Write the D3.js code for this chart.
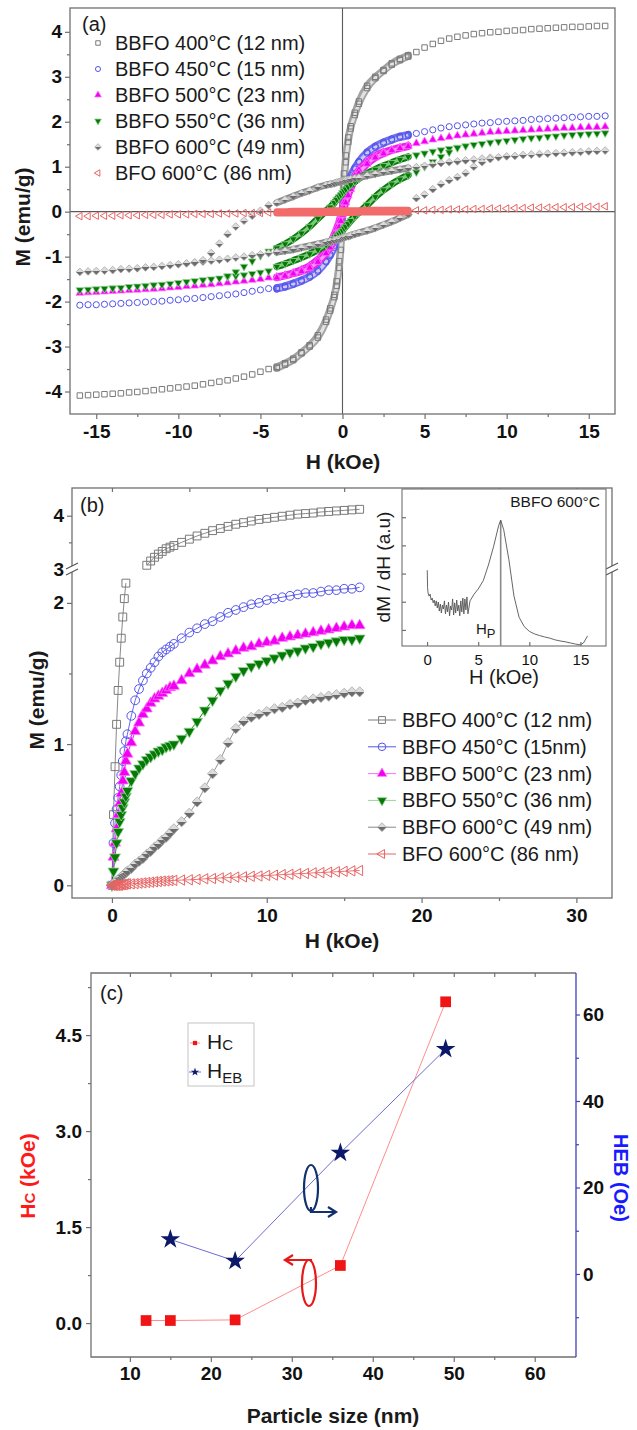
<!DOCTYPE html>
<html><head><meta charset="utf-8">
<script src="https://cdn.jsdelivr.net/npm/d3@7"></script>
<style>
body{margin:0;background:#fff;}
svg{display:block;}
</style></head><body>
<svg id="chart" width="637" height="1430"></svg>
<script>
// ---------------- DATA ----------------
// Panel (a): field grids (kOe)
const H_NEG = [-16,-15.5,-15,-14.5,-14,-13.5,-13,-12.5,-12,-11.5,-11,-10.5,-10,-9.5,-9,-8.5,-8,-7.5,-7,-6.5,-6,-5.5,-5,-4.5];
const H_POS = [4.5,5,5.5,6,6.5,7,7.5,8,8.5,9,9.5,10,10.5,11,11.5,12,12.5,13,13.5,14,14.5,15,15.5,16];
const H_BAND = [-4,-3.5,-3,-2.5,-2,-1.5,-1,-0.75,-0.5,-0.35,-0.2,-0.1,0,0.1,0.2,0.35,0.5,0.75,1,1.5,2,2.5,3,3.5,4];
const H_OPEN36_NEG = [-7,-6.5,-6,-5.5,-5,-4.5];
const H_OPEN36_POS = [4.5,5,5.5,6,6.5,7];
const H_OPEN49_NEG = [-9,-8.5,-8,-7.5,-7,-6.5,-6,-5.5,-5,-4.5];
const H_OPEN49_POS = [4.5,5,5.5,6,6.5,7,7.5,8,8.5,9];

// M (emu/g) – 12 nm
const neg12 = [-4.09,-4.08,-4.07,-4.06,-4.05,-4.04,-4.02,-4.01,-3.99,-3.97,-3.95,-3.93,-3.91,-3.89,-3.87,-3.84,-3.81,-3.78,-3.75,-3.71,-3.67,-3.62,-3.56,-3.5];
const pos12 = [3.55,3.65,3.73,3.8,3.85,3.89,3.92,3.95,3.97,3.99,4.0,4.02,4.03,4.04,4.06,4.07,4.08,4.09,4.1,4.11,4.11,4.12,4.13,4.13];
const desc12 = [-3.45,-3.37,-3.27,-3.13,-2.97,-2.75,-2.4,-2.15,-1.85,-1.55,-1.1,-0.55,0.15,0.85,1.25,1.65,1.9,2.2,2.45,2.8,3.0,3.15,3.3,3.4,3.48];
const asc12 = [-3.48,-3.4,-3.3,-3.15,-3.0,-2.8,-2.45,-2.2,-1.9,-1.65,-1.25,-0.85,-0.15,0.55,1.1,1.55,1.85,2.15,2.4,2.75,2.97,3.13,3.27,3.37,3.45];
// 15 nm
const neg15 = [-2.08,-2.07,-2.07,-2.06,-2.05,-2.04,-2.03,-2.02,-2.01,-2.0,-1.99,-1.97,-1.96,-1.94,-1.93,-1.91,-1.89,-1.87,-1.85,-1.83,-1.8,-1.77,-1.74,-1.71];
const pos15 = [1.74,1.78,1.82,1.86,1.89,1.91,1.93,1.95,1.97,1.98,2.0,2.01,2.02,2.03,2.05,2.06,2.07,2.08,2.09,2.1,2.11,2.12,2.12,2.13];
const desc15 = [-1.69,-1.65,-1.59,-1.52,-1.43,-1.3,-1.1,-0.95,-0.75,-0.55,-0.32,-0.14,0.06,0.25,0.42,0.62,0.8,0.98,1.12,1.33,1.46,1.55,1.62,1.68,1.72];
const asc15 = [-1.72,-1.68,-1.62,-1.55,-1.46,-1.33,-1.12,-0.98,-0.8,-0.62,-0.42,-0.25,-0.06,0.14,0.32,0.55,0.75,0.95,1.1,1.3,1.43,1.52,1.59,1.65,1.69];
// 23 nm
const neg23 = [-1.81,-1.8,-1.79,-1.78,-1.77,-1.76,-1.75,-1.74,-1.73,-1.72,-1.71,-1.69,-1.68,-1.66,-1.65,-1.63,-1.62,-1.6,-1.58,-1.56,-1.54,-1.52,-1.5,-1.47];
const pos23 = [1.52,1.56,1.6,1.63,1.66,1.69,1.71,1.73,1.75,1.77,1.78,1.79,1.8,1.81,1.82,1.83,1.84,1.85,1.86,1.86,1.87,1.88,1.88,1.89];
const desc23 = [-1.45,-1.41,-1.36,-1.29,-1.2,-1.06,-0.85,-0.7,-0.5,-0.36,-0.2,-0.07,0.07,0.21,0.34,0.5,0.63,0.8,0.93,1.12,1.25,1.33,1.38,1.43,1.47];
const asc23 = [-1.47,-1.43,-1.38,-1.33,-1.25,-1.12,-0.93,-0.8,-0.63,-0.5,-0.34,-0.21,-0.07,0.07,0.2,0.36,0.5,0.7,0.85,1.06,1.2,1.29,1.36,1.41,1.45];
// 36 nm
const neg36 = [-1.74,-1.73,-1.72,-1.71,-1.7,-1.69,-1.67,-1.66,-1.65,-1.63,-1.62,-1.6,-1.58,-1.56,-1.54,-1.52,-1.5,-1.48,-1.45,-1.43,-1.41,-1.38,-1.35,-1.32];
const pos36 = [1.26,1.3,1.34,1.37,1.4,1.43,1.46,1.49,1.51,1.54,1.56,1.58,1.6,1.62,1.64,1.65,1.67,1.68,1.7,1.71,1.72,1.73,1.74,1.75];
const desc36 = [-0.81,-0.72,-0.61,-0.48,-0.33,-0.15,0.02,0.1,0.2,0.27,0.33,0.37,0.42,0.46,0.5,0.55,0.6,0.67,0.74,0.85,0.94,1.02,1.09,1.16,1.22];
const asc36 = [-1.22,-1.16,-1.09,-1.02,-0.94,-0.85,-0.74,-0.67,-0.6,-0.55,-0.5,-0.46,-0.42,-0.37,-0.33,-0.27,-0.2,-0.1,-0.02,0.15,0.33,0.48,0.61,0.72,0.81];
const open36Neg = [-1.43,-1.34,-1.22,-1.1,-0.98,-0.88];
const open36Pos = [0.88,1.0,1.11,1.22,1.32,1.42];
// 49 nm
const neg49 = [-1.34,-1.33,-1.32,-1.31,-1.3,-1.28,-1.27,-1.26,-1.24,-1.23,-1.21,-1.19,-1.17,-1.15,-1.13,-1.11,-1.09,-1.07,-1.05,-1.02,-1.0,-0.97,-0.95,-0.92];
const pos49 = [0.99,1.02,1.05,1.08,1.1,1.12,1.14,1.16,1.18,1.2,1.21,1.23,1.24,1.26,1.27,1.28,1.29,1.3,1.31,1.32,1.33,1.34,1.35,1.36];
const desc49 = [0.2,0.27,0.34,0.41,0.47,0.54,0.59,0.61,0.63,0.65,0.66,0.67,0.68,0.69,0.7,0.71,0.72,0.74,0.76,0.8,0.84,0.88,0.91,0.94,0.97];
const asc49 = [-0.9,-0.87,-0.84,-0.8,-0.76,-0.72,-0.68,-0.66,-0.64,-0.62,-0.61,-0.6,-0.58,-0.57,-0.56,-0.55,-0.53,-0.5,-0.47,-0.42,-0.36,-0.29,-0.22,-0.14,-0.06];
const open49Neg = [-1.13,-1.08,-0.92,-0.71,-0.5,-0.33,-0.2,-0.09,0.02,0.14];
const open49Pos = [0.3,0.38,0.5,0.61,0.7,0.77,0.86,1.0,1.1,1.17];
// 86 nm (BFO)
const neg86 = [-0.1,-0.1,-0.09,-0.09,-0.09,-0.08,-0.08,-0.08,-0.07,-0.07,-0.07,-0.06,-0.06,-0.06,-0.05,-0.05,-0.05,-0.04,-0.04,-0.04,-0.03,-0.03,-0.03,-0.02];
const pos86 = [0.03,0.03,0.04,0.04,0.05,0.05,0.05,0.06,0.06,0.07,0.07,0.07,0.08,0.08,0.09,0.09,0.09,0.1,0.1,0.1,0.11,0.11,0.11,0.12];
const desc86 = [0,0,0.01,0.01,0.01,0.01,0.01,0.02,0.02,0.02,0.02,0.02,0.02,0.02,0.02,0.02,0.02,0.02,0.02,0.03,0.03,0.03,0.03,0.03,0.03];
const asc86 = [-0.03,-0.03,-0.03,-0.03,-0.03,-0.03,-0.02,-0.02,-0.02,-0.02,-0.02,-0.02,-0.02,-0.02,-0.02,-0.02,-0.02,-0.02,-0.01,-0.01,-0.01,-0.01,-0.01,0,0];

// Panel (b): virgin curves
const H_VIR = [0,0.1,0.2,0.3,0.4,0.5,0.6,0.7,0.8,0.9,1,1.25,1.5,1.75,2,2.25,2.5,2.75,3,3.25,3.5,3.75,4,4.5,5,5.5,6,6.5,7,7.5,8,8.5,9,9.5,10,10.5,11,11.5,12,12.5,13,13.5,14,14.5,15,15.5,16];
const vir12 = [0,0.5,0.84,1.14,1.38,1.58,1.75,1.9,2.03,2.14,2.3,2.5,2.65,2.8,2.95,3.07,3.15,3.22,3.28,3.33,3.38,3.41,3.44,3.5,3.56,3.62,3.67,3.72,3.76,3.8,3.84,3.87,3.9,3.93,3.95,3.97,3.99,4.01,4.03,4.04,4.05,4.07,4.08,4.09,4.1,4.11,4.12];
const vir15 = [0,0.3,0.44,0.54,0.62,0.7,0.78,0.88,0.95,1.02,1.07,1.2,1.31,1.39,1.45,1.5,1.54,1.58,1.62,1.65,1.67,1.69,1.71,1.75,1.79,1.82,1.85,1.87,1.9,1.93,1.95,1.97,1.99,2.0,2.02,2.03,2.04,2.05,2.06,2.07,2.07,2.08,2.09,2.09,2.1,2.1,2.11];
const vir23 = [0,0.2,0.3,0.4,0.5,0.58,0.65,0.74,0.8,0.88,0.93,1.01,1.09,1.15,1.21,1.25,1.29,1.32,1.34,1.36,1.38,1.4,1.41,1.45,1.5,1.53,1.56,1.59,1.62,1.64,1.66,1.68,1.69,1.71,1.72,1.73,1.75,1.76,1.77,1.78,1.79,1.8,1.81,1.82,1.83,1.84,1.84];
const vir36 = [0,0.1,0.2,0.3,0.38,0.45,0.5,0.55,0.59,0.63,0.67,0.74,0.79,0.83,0.86,0.89,0.91,0.93,0.95,0.96,0.98,0.99,1.0,1.04,1.09,1.16,1.24,1.31,1.38,1.43,1.48,1.52,1.55,1.57,1.59,1.61,1.63,1.65,1.66,1.68,1.69,1.71,1.72,1.73,1.74,1.74,1.75];
const vir49 = [0,0.01,0.02,0.03,0.04,0.05,0.06,0.07,0.08,0.09,0.1,0.12,0.15,0.17,0.19,0.22,0.24,0.27,0.29,0.32,0.34,0.37,0.4,0.45,0.51,0.59,0.69,0.79,0.89,1.01,1.11,1.16,1.19,1.21,1.23,1.25,1.26,1.28,1.29,1.31,1.32,1.33,1.34,1.35,1.36,1.37,1.37];
const vir86 = [0,0,0,0,0,0,0.005,0.005,0.005,0.01,0.01,0.01,0.012,0.015,0.017,0.02,0.022,0.025,0.027,0.03,0.031,0.033,0.035,0.037,0.039,0.042,0.046,0.048,0.052,0.054,0.058,0.06,0.064,0.066,0.07,0.072,0.076,0.078,0.082,0.084,0.088,0.09,0.093,0.096,0.099,0.102,0.105];

// Inset: dM/dH (a.u.) of BBFO 600°C
const INSET_H = [0.02,0.05,0.1,0.2,0.3,0.4,0.5,0.6,0.7,0.8,0.9,1.0,1.1,1.2,1.3,1.4,1.5,1.6,1.7,1.8,1.9,2.0,2.1,2.2,2.3,2.4,2.5,2.6,2.7,2.8,2.9,3.0,3.1,3.2,3.3,3.4,3.5,3.6,3.7,3.8,3.9,4.0,4.2,4.6,5.0,5.5,6.0,6.5,7.0,7.2,7.5,8.0,8.5,9.0,9.5,10,10.5,11,11.5,12,12.5,13,13.5,14,14.5,15,15.3,15.7];
const INSET_V = [2.12,1.5,1.31,1.2,1.27,1.06,1.13,0.96,1.06,0.85,1.03,0.78,0.99,0.67,0.92,0.6,0.88,0.74,1.03,0.57,0.88,0.64,0.99,0.5,0.85,0.71,1.1,0.53,0.96,0.6,1.06,0.67,0.88,0.5,1.03,0.64,1.13,0.57,1.1,0.71,1.17,0.57,1.03,1.27,1.45,1.75,2.3,2.95,3.7,3.89,3.55,2.5,1.2,0.45,0.12,-0.05,-0.14,-0.2,-0.25,-0.29,-0.35,-0.39,-0.42,-0.46,-0.5,-0.53,-0.46,-0.21];
const HP = 7.2;

// Panel (c)
const SIZE_HC = [12,15,23,36,49];
const HC = [0.04,0.04,0.05,0.9,5.02];
const SIZE_HEB = [15,23,36,49];
const HEB = [8,3,28,52];

// Tick labels / legends
const X_TICKS_A = [-15,-10,-5,0,5,10,15];
const Y_TICKS_A = [-4,-3,-2,-1,0,1,2,3,4];
const X_TICKS_B = [0,10,20,30];
const Y_TICKS_B_LO = [0,1,2];
const Y_TICKS_B_HI = [3,4];
const X_TICKS_I = [0,5,10,15];
const X_TICKS_C = [10,20,30,40,50,60];
const YL_TICKS_C = [0,1.5,3.0,4.5];
const YR_TICKS_C = [0,20,40,60];
const LEGEND_A = ["BBFO 400°C (12 nm)","BBFO 450°C (15 nm)","BBFO 500°C (23 nm)","BBFO 550°C (36 nm)","BBFO 600°C (49 nm)","BFO 600°C (86 nm)"];
const LEGEND_B = ["BBFO 400°C (12 nm)","BBFO 450°C (15nm)","BBFO 500°C (23 nm)","BBFO 550°C (36 nm)","BBFO 600°C (49 nm)","BFO 600°C (86 nm)"];

// ---------------- DRAWING ----------------
const FONT = "'Liberation Sans', Arial, Helvetica, sans-serif";
const AX = "#707070";
const svg = d3.select("#chart");
const defs = svg.append("defs");
const grad = defs.append("linearGradient").attr("id","halfGray").attr("x1",0).attr("y1",0).attr("x2",0).attr("y2",1);
[[0,"#dcdcdc"],[0.5,"#dcdcdc"],[0.5,"#6c6c6c"],[1,"#6c6c6c"]].forEach(([o,c])=>grad.append("stop").attr("offset",o).attr("stop-color",c));

const diamondType = {draw(ctx,size){const r=Math.sqrt(size/2);ctx.moveTo(0,-r);ctx.lineTo(r,0);ctx.lineTo(0,r);ctx.lineTo(-r,0);ctx.closePath();}};
const SHAPES = {square:[d3.symbolSquare,0],circle:[d3.symbolCircle,0],up:[d3.symbolTriangle,0],down:[d3.symbolTriangle,180],diamond:[diamondType,0],left:[d3.symbolTriangle,-90]};

const SERIES = [
 {neg:neg12,pos:pos12,desc:desc12,asc:asc12,vir:vir12,shape:"square",stroke:"#7a7a7a",fill:"none",sw:1,dark:"#a4a4a4",light:"#e2e2e2",marks:true},
 {neg:neg15,pos:pos15,desc:desc15,asc:asc15,vir:vir15,shape:"circle",stroke:"#5454ea",fill:"none",sw:1,dark:"#7070ee",light:"#c9c9ff",marks:true},
 {neg:neg23,pos:pos23,desc:desc23,asc:asc23,vir:vir23,shape:"up",stroke:"#ff70ff",fill:"#f000f0",sw:0.8,dark:"#ee22ee",light:"#ffa0ff",marks:true},
 {neg:neg36,pos:pos36,desc:desc36,asc:asc36,vir:vir36,shape:"down",stroke:"#96d696",fill:"#067806",sw:0.8,dark:"#0b7a0b",light:"#7cc87c",marks:true,
  openNegH:H_OPEN36_NEG,openNeg:open36Neg,openPosH:H_OPEN36_POS,openPos:open36Pos},
 {neg:neg49,pos:pos49,desc:desc49,asc:asc49,vir:vir49,shape:"diamond",stroke:"#a8a8a8",fill:"url(#halfGray)",sw:0.8,dark:"#8a8a8a",light:"#bdbdbd",marks:true,
  openNegH:H_OPEN49_NEG,openNeg:open49Neg,openPosH:H_OPEN49_POS,openPos:open49Pos},
 {neg:neg86,pos:pos86,desc:desc86,asc:asc86,vir:vir86,shape:"left",stroke:"#e86464",fill:"none",sw:1,dark:"#f26a6a",light:"#f26a6a",marks:false}
];
const SIZE_A = {square:30,circle:30,up:26,down:26,diamond:30,left:24};
const SIZE_B = {square:62,circle:60,up:52,down:52,diamond:52,left:46};
const SIZE_L = {square:20,circle:20,up:20,down:20,diamond:22,left:18};

function drawMarkers(g,pts,s,size,xs,ys){
  const [t,rot]=SHAPES[s.shape];
  const p=d3.symbol().type(t).size(size)();
  g.selectAll(null).data(pts).join("path").attr("d",p)
   .attr("transform",d=>`translate(${xs(d[0])},${ys(d[1])}) rotate(${rot})`)
   .attr("fill",s.fill).attr("stroke",s.stroke).attr("stroke-width",s.sw);
}
function styleAxis(a,size,bold,color){
  a.select(".domain").remove();
  a.selectAll(".tick line").attr("stroke",color||AX).attr("stroke-width",1.2);
  a.selectAll(".tick text").style("font-family",FONT).style("font-size",size+"px").style("font-weight",bold?"bold":"normal").attr("fill","#111");
  return a;
}
function addAxis(g,gen,tx,ty,size,bold,color){
  return styleAxis(g.append("g").attr("transform",`translate(${tx},${ty})`).call(gen),size,bold,color);
}
function txt(g,x,y,s,opt){
  opt=opt||{};
  const t=g.append("text").attr("x",x).attr("y",y).style("font-family",FONT).style("font-size",(opt.size||20)+"px")
    .style("font-weight",opt.bold?"bold":"normal").attr("fill",opt.color||"#1a1a1a").attr("text-anchor",opt.anchor||"start");
  if(opt.rot!==undefined) t.attr("transform",`rotate(${opt.rot},${x},${y})`);
  t.text(s); return t;
}
const fmt = d=>String(d);
const noLab = ()=>"";

// ===== Panel (a) =====
const xA = d3.scaleLinear().domain([-16.6,16.6]).range([70,615]);
const yA = d3.scaleLinear().domain([-4.5,4.53]).range([414,8]);
const gA = svg.append("g");
gA.append("line").attr("x1",xA.range()[0]).attr("x2",xA.range()[1]).attr("y1",yA(0)).attr("y2",yA(0)).attr("stroke","#5a5a5a").attr("stroke-width",1.1);
gA.append("line").attr("x1",xA(0)).attr("x2",xA(0)).attr("y1",yA.range()[1]).attr("y2",yA.range()[0]).attr("stroke","#5a5a5a").attr("stroke-width",1.1);
const lineA = d3.line().x(d=>xA(d[0])).y(d=>yA(d[1])).curve(d3.curveMonotoneX);
SERIES.forEach(s=>{
  const g=gA.append("g");
  const bands=[H_BAND.map((h,i)=>[h,s.desc[i]]),H_BAND.map((h,i)=>[h,s.asc[i]])];
  bands.forEach(b=>{
    g.append("path").attr("d",lineA(b)).attr("fill","none").attr("stroke",s.dark).attr("stroke-width",7).attr("stroke-linecap","round");
    if(s.light!==s.dark) g.append("path").attr("d",lineA(b)).attr("fill","none").attr("stroke",s.light).attr("stroke-width",3.2);
  });
  let pts=[...H_NEG.map((h,i)=>[h,s.neg[i]]),...H_POS.map((h,i)=>[h,s.pos[i]])];
  if(s.openNeg) pts=pts.concat(s.openNegH.map((h,i)=>[h,s.openNeg[i]]));
  if(s.openPos) pts=pts.concat(s.openPosH.map((h,i)=>[h,s.openPos[i]]));
  if(s.marks) pts=pts.concat(bands[0],bands[1]);
  drawMarkers(g,pts,s,SIZE_A[s.shape],xA,yA);
});
gA.append("rect").attr("x",70).attr("y",8).attr("width",545).attr("height",406).attr("fill","none").attr("stroke",AX).attr("stroke-width",1.3);
addAxis(gA,d3.axisBottom(xA).tickValues(X_TICKS_A).tickFormat(fmt).tickSize(5).tickPadding(6),0,414,19,true);
addAxis(gA,d3.axisBottom(xA).tickValues([-12.5,-7.5,-2.5,2.5,7.5,12.5]).tickFormat(noLab).tickSize(3),0,414,19,true);
addAxis(gA,d3.axisLeft(yA).tickValues(Y_TICKS_A).tickFormat(fmt).tickSize(5).tickPadding(3),70,0,19,true);
addAxis(gA,d3.axisLeft(yA).tickValues([-3.5,-2.5,-1.5,-0.5,0.5,1.5,2.5,3.5]).tickFormat(noLab).tickSize(3),70,0,19,true);
txt(gA,343,469,"H (kOe)",{size:21,bold:true,anchor:"middle"});
txt(gA,30,217,"M (emu/g)",{size:21,bold:true,anchor:"middle",rot:-90});
txt(gA,82,31,"(a)",{size:20});
LEGEND_A.forEach((l,i)=>{
  const cy=43+i*26;
  drawMarkers(gA,[[0,0]],SERIES[i],SIZE_L[SERIES[i].shape],()=>98,()=>cy);
  txt(gA,115,cy+7,l,{size:20});
});

// ===== Panel (b) =====
const xB = d3.scaleLinear().domain([-2.58,32.3]).range([72,612]);
const yBlo = d3.scaleLinear().domain([-0.09,2.24]).range([898,569]);
const yBhi = d3.scaleLinear().domain([3,4.52]).range([569,488]);
const gB = svg.append("g");
SERIES.forEach(s=>{
  const g=gB.append("g");
  const pts=H_VIR.map((h,i)=>[h,s.vir[i]]);
  const lo=pts.filter(d=>d[1]<=yBlo.domain()[1]), hi=pts.filter(d=>d[1]>=yBhi.domain()[0]);
  const col = s.shape==="diamond"?"#888":(s.fill!=="none"?s.fill:s.stroke);
  if(lo.length>1) g.append("path").attr("d",d3.line().x(d=>xB(d[0])).y(d=>yBlo(d[1]))(lo)).attr("fill","none").attr("stroke",col).attr("stroke-width",0.9);
  if(hi.length>1) g.append("path").attr("d",d3.line().x(d=>xB(d[0])).y(d=>yBhi(d[1]))(hi)).attr("fill","none").attr("stroke",col).attr("stroke-width",0.9);
  drawMarkers(g,lo,s,SIZE_B[s.shape],xB,yBlo);
  drawMarkers(g,hi,s,SIZE_B[s.shape],xB,yBhi);
});
// frame
gB.append("rect").attr("x",72).attr("y",488).attr("width",540).attr("height",410).attr("fill","none").attr("stroke",AX).attr("stroke-width",1.3);
addAxis(gB,d3.axisBottom(xB).tickValues(X_TICKS_B).tickFormat(fmt).tickSize(5).tickPadding(6),0,898,19,true);
addAxis(gB,d3.axisBottom(xB).tickValues([5,15,25]).tickFormat(noLab).tickSize(3),0,898,19,true);
addAxis(gB,d3.axisTop(xB).tickValues([0,5,10,15,20,25,30]).tickFormat(noLab).tickSize(-4),0,488,19,true);
addAxis(gB,d3.axisLeft(yBlo).tickValues(Y_TICKS_B_LO).tickFormat(fmt).tickSize(5).tickPadding(3),72,0,19,true);
addAxis(gB,d3.axisLeft(yBlo).tickValues([0.5,1.5]).tickFormat(noLab).tickSize(3),72,0,19,true);
addAxis(gB,d3.axisLeft(yBhi).tickValues(Y_TICKS_B_HI).tickFormat(fmt).tickSize(5).tickPadding(3),72,0,19,true);
addAxis(gB,d3.axisLeft(yBhi).tickValues([3.5]).tickFormat(noLab).tickSize(3),72,0,19,true);
function breakMark(x,y){
  gB.append("rect").attr("x",x-6).attr("y",y-3).attr("width",12).attr("height",6).attr("fill","#fff");
  [-3,3].forEach(o=>gB.append("line").attr("x1",x-6).attr("y1",y+o+3).attr("x2",x+6).attr("y2",y+o-3).attr("stroke","#555").attr("stroke-width",1.2));
}
breakMark(72,yBhi(3));
breakMark(612,yBhi(3));
txt(gB,342,948,"H (kOe)",{size:21,bold:true,anchor:"middle"});
txt(gB,44,700,"M (emu/g)",{size:21,bold:true,anchor:"middle",rot:-90});
txt(gB,80,512,"(b)",{size:20});

// Inset
const xI = d3.scaleLinear().domain([-2.45,17.5]).range([402,606]);
const yI = d3.scaleLinear().domain([-0.57,5.0]).range([646,489]);
const gI = svg.append("g");
gI.append("rect").attr("x",402).attr("y",489).attr("width",204).attr("height",157).attr("fill","#fff").attr("stroke",AX).attr("stroke-width",1.1);
gI.append("line").attr("x1",xI(HP)).attr("x2",xI(HP)).attr("y1",yI(INSET_V[INSET_H.indexOf(HP)])).attr("y2",646).attr("stroke","#8a8a8a").attr("stroke-width",1.6);
gI.append("path").attr("d",d3.line().x(d=>xI(d[0])).y(d=>yI(d[1]))(INSET_H.map((h,i)=>[h,INSET_V[i]]))).attr("fill","none").attr("stroke","#555").attr("stroke-width",0.9);
addAxis(gI,d3.axisBottom(xI).tickValues(X_TICKS_I).tickFormat(fmt).tickSizeInner(-4).tickSizeOuter(0).tickPadding(8),0,646,15,false);
addAxis(gI,d3.axisLeft(yI).tickValues([0,1,2,3,4]).tickFormat(noLab).tickSizeInner(-4).tickSizeOuter(0),402,0,15,false);
txt(gI,600,507,"BBFO 600°C",{size:15.5,anchor:"end"});
const hp = txt(gI,476,634,"H",{size:15});
hp.append("tspan").attr("dy",4).style("font-size","13px").text("P");
txt(gI,504,684,"H (kOe)",{size:20,anchor:"middle"});
txt(gI,390,567,"dM / dH (a.u)",{size:19,anchor:"middle",rot:-90});

// Legend (b)
gB.append("rect").attr("x",364).attr("y",685).attr("width",244).attr("height",185).attr("fill","#fff");
LEGEND_B.forEach((l,i)=>{
  const cy=720+i*26.8, s=SERIES[i];
  const col = s.shape==="diamond"?"#888":s.stroke;
  gB.append("line").attr("x1",368).attr("x2",396).attr("y1",cy).attr("y2",cy).attr("stroke",col).attr("stroke-width",1);
  drawMarkers(gB,[[0,0]],s,SIZE_B[s.shape]*0.75,()=>382,()=>cy);
  txt(gB,402,cy+7,l,{size:20});
});

// ===== Panel (c) =====
const xC = d3.scaleLinear().domain([5.2,65.1]).range([91,576]);
const yCL = d3.scaleLinear().domain([-0.53,5.47]).range([1357,973]);
const yCR = d3.scaleLinear().domain([-19.2,69.6]).range([1357,973]);
const gC = svg.append("g");
const BLUE_AX = "#4040b8";
gC.append("path").attr("d",`M576,973H91V1357H576`).attr("fill","none").attr("stroke",AX).attr("stroke-width",1.3);
gC.append("line").attr("x1",576).attr("x2",576).attr("y1",973).attr("y2",1357).attr("stroke",BLUE_AX).attr("stroke-width",1.3);
addAxis(gC,d3.axisBottom(xC).tickValues(X_TICKS_C).tickFormat(fmt).tickSize(5).tickPadding(5),0,1357,19,true);
addAxis(gC,d3.axisBottom(xC).tickValues([15,25,35,45,55]).tickFormat(noLab).tickSize(3),0,1357,19,true);
addAxis(gC,d3.axisTop(xC).tickValues([10,15,20,25,30,35,40,45,50,55,60]).tickFormat(noLab).tickSize(-4),0,973,19,true);
addAxis(gC,d3.axisLeft(yCL).tickValues(YL_TICKS_C).tickFormat(d3.format(".1f")).tickSize(5).tickPadding(4),91,0,19,true);
addAxis(gC,d3.axisLeft(yCL).tickValues([0.75,2.25,3.75,5.25]).tickFormat(noLab).tickSize(3),91,0,19,true);
addAxis(gC,d3.axisRight(yCR).tickValues(YR_TICKS_C).tickFormat(fmt).tickSize(4).tickPadding(3),576,0,19,true,BLUE_AX);
addAxis(gC,d3.axisRight(yCR).tickValues([-10,10,30,50]).tickFormat(noLab).tickSize(3),576,0,19,true,BLUE_AX);
// lines & markers
gC.append("path").attr("d",d3.line().x(d=>xC(d[0])).y(d=>yCL(d[1]))(SIZE_HC.map((s,i)=>[s,HC[i]]))).attr("fill","none").attr("stroke","#ff8c8c").attr("stroke-width",1);
gC.append("path").attr("d",d3.line().x(d=>xC(d[0])).y(d=>yCR(d[1]))(SIZE_HEB.map((s,i)=>[s,HEB[i]]))).attr("fill","none").attr("stroke","#6c6cd6").attr("stroke-width",1);
gC.selectAll(null).data(SIZE_HC.map((s,i)=>[s,HC[i]])).join("path").attr("d",d3.symbol().type(d3.symbolSquare).size(115)())
  .attr("transform",d=>`translate(${xC(d[0])},${yCL(d[1])})`).attr("fill","#f01414");
gC.selectAll(null).data(SIZE_HEB.map((s,i)=>[s,HEB[i]])).join("path").attr("d",d3.symbol().type(d3.symbolStar).size(120)())
  .attr("transform",d=>`translate(${xC(d[0])},${yCR(d[1])})`).attr("fill","#0c1868");
// ellipses + arrows
const NAVY="#10306e", RED="#e81818";
gC.append("ellipse").attr("cx",311).attr("cy",1188).attr("rx",7).attr("ry",23).attr("fill","none").attr("stroke",NAVY).attr("stroke-width",2.2);
gC.append("path").attr("d","M311,1207V1212H336M328,1207L336,1212L328,1217").attr("fill","none").attr("stroke",NAVY).attr("stroke-width",2.2);
gC.append("ellipse").attr("cx",309).attr("cy",1283).attr("rx",7).attr("ry",23).attr("fill","none").attr("stroke",RED).attr("stroke-width",2.2);
gC.append("path").attr("d","M311,1262V1260H285M293,1255L285,1260L293,1265").attr("fill","none").attr("stroke",RED).attr("stroke-width",2.2);
// titles
txt(gC,333,1423,"Particle size (nm)",{size:21,bold:true,anchor:"middle"});
const tl = txt(gC,35,1176,"H",{size:21,bold:true,anchor:"middle",rot:-90,color:"#ff1a1a"});
tl.append("tspan").style("font-size","15px").text("C");
tl.append("tspan").text(" (kOe)");
txt(gC,614,1178,"HEB (Oe)",{size:20,bold:true,anchor:"middle",rot:90,color:"#1a1aff"});
txt(gC,100,1000,"(c)",{size:20});
// legend (c)
gC.append("rect").attr("x",188).attr("y",1023).attr("width",66).attr("height",63).attr("fill","#fff").attr("stroke","#c4c4c4").attr("stroke-width",1);
gC.append("line").attr("x1",190).attr("x2",200).attr("y1",1043).attr("y2",1043).attr("stroke","#ff8c8c");
gC.append("path").attr("d",d3.symbol().type(d3.symbolSquare).size(18)()).attr("transform","translate(195,1043)").attr("fill","#f01414");
gC.append("line").attr("x1",189).attr("x2",201).attr("y1",1072).attr("y2",1072).attr("stroke","#6c6cd6");
gC.append("path").attr("d",d3.symbol().type(d3.symbolStar).size(22)()).attr("transform","translate(195,1072)").attr("fill","#0c1868");
const l1 = txt(gC,207,1049,"H",{size:21});
l1.append("tspan").attr("dy",1).style("font-size","15px").text("C");
const l2 = txt(gC,207,1078,"H",{size:21});
l2.append("tspan").attr("dy",5).style("font-size","15px").text("EB");
</script></body></html>
